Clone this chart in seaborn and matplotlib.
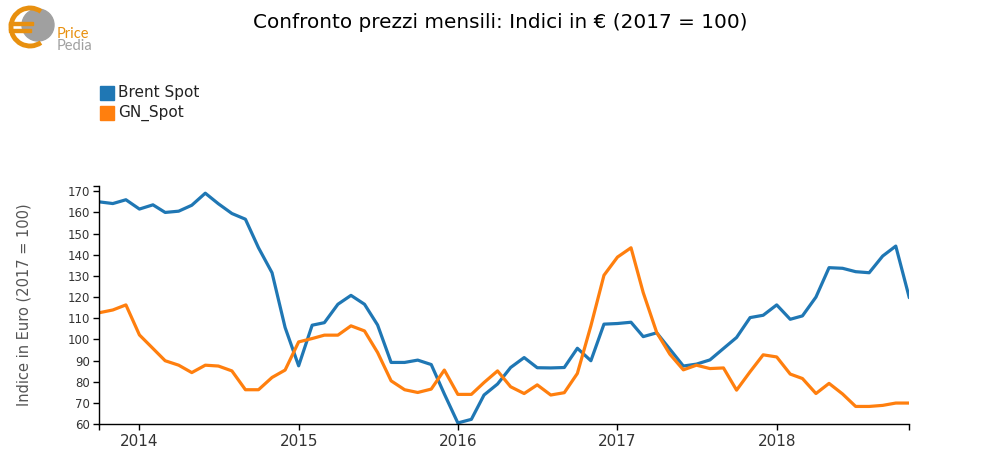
import numpy as np
import pandas as pd
import matplotlib
matplotlib.use("Agg")
import matplotlib.pyplot as plt
from matplotlib.patches import Circle, Arc, Rectangle
import seaborn as sns

# monthly index values, Oct 2013 - Nov 2018 (2017 = 100)
start_month = "2013-10-01"
n_months = 62
series_names = ["Brent Spot", "GN_Spot"]
series_colors = ["#1f77b4", "#ff7f0e"]

brent = [165, 164.2, 166, 161.6, 163.6, 160, 160.6, 163.4, 169.1, 164.1,
         159.5, 156.8, 143.3, 131.5, 105.6, 87.5, 106.7, 107.9, 116.6, 120.8,
         116.6, 106.8, 89.1, 89.1, 90.2, 88.1, 74.2, 60.5, 62.2, 73.7,
         78.9, 86.7, 91.4, 86.6, 86.5, 86.7, 95.8, 89.9, 107.2, 107.5,
         108.1, 101.3, 103.1, 95.4, 87.4, 88.3, 90.3, 95.7, 100.9, 110.3,
         111.4, 116.3, 109.5, 111.1, 120, 133.9, 133.6, 132, 131.5, 139.4,
         144.1, 119.7]
gn = [112.6, 113.9, 116.3, 102.1, 95.7, 89.9, 87.8, 84.3, 87.8, 87.4,
      85.1, 76.2, 76.2, 82, 85.5, 98.8, 100.4, 102, 102, 106.4,
      104, 93.8, 80.4, 76.2, 74.9, 76.5, 85.5, 74, 74, 79.6,
      85.1, 77.6, 74.4, 78.5, 73.7, 74.8, 83.9, 106.4, 130.3, 138.9,
      143.3, 122.1, 103.2, 93, 85.6, 87.8, 86.2, 86.5, 76, 84.7,
      92.7, 91.7, 83.6, 81.5, 74.4, 79.2, 74.2, 68.3, 68.3, 68.8,
      69.9, 69.9]
y_ticks = list(range(60, 171, 10))
year_ticks = ["2014", "2015", "2016", "2017", "2018"]

dates = pd.date_range(start_month, periods=n_months, freq="MS")
df = pd.DataFrame({
    "date": np.concatenate([dates, dates]),
    "value": brent + gn,
    "serie": [series_names[0]] * n_months + [series_names[1]] * n_months,
})

sns.set_style("ticks")
plt.rcParams["font.family"] = ["DejaVu Sans"]

W, H = 1000, 475
fig = plt.figure(figsize=(W / 100, H / 100), dpi=100)
ax = fig.add_axes([99.3 / W, 1 - 424 / H, 810 / W, 238 / H])

sns.lineplot(data=df, x="date", y="value", hue="serie", palette=series_colors,
             linewidth=2.3, ax=ax, legend=False)

ax.set_xlim(dates[0], dates[-1])
ax.set_ylim(60, 172.5)
ax.set_yticks(y_ticks)
ax.set_xticks([pd.Timestamp(y + "-01-01") for y in year_ticks])
ax.set_xticklabels(year_ticks)
# outer ticks at the axis ends, like d3
ax.set_xticks([dates[0], dates[-1]], minor=True)
ax.set_yticks([172.5], minor=True)
ax.tick_params(axis="x", which="both", length=4.5, width=1, color="black",
               labelsize=11, labelcolor="#333333", pad=3)
ax.tick_params(axis="y", which="both", length=4.5, width=1, color="black",
               labelsize=8.5, labelcolor="#333333", pad=2)
for s in ["top", "right"]:
    ax.spines[s].set_visible(False)
for s in ["left", "bottom"]:
    ax.spines[s].set_color("black")
    ax.spines[s].set_linewidth(1)
ax.set_xlabel("")
ax.set_ylabel("Indice in Euro (2017 = 100)", fontsize=10.5, color="#555555")
ax.yaxis.set_label_coords((32 - 99.3) / 810, 0.5)

fig.text(0.5, 1 - 22 / H, "Confronto prezzi mensili: Indici in \u20ac (2017 = 100)",
         ha="center", va="center", fontsize=14.4, color="black")

# legend
for k, (name, col) in enumerate(zip(series_names, series_colors)):
    top = 86 + 20 * k
    fig.patches.append(Rectangle((100 / W, 1 - (top + 14) / H), 14 / W, 14 / H,
                                 transform=fig.transFigure, color=col))
    fig.text(118 / W, 1 - (top + 7) / H, name, ha="left", va="center",
             fontsize=11, color="#222222")

# logo
lax = fig.add_axes([0, 1 - 60 / H, 110 / W, 60 / H])
lax.set_xlim(0, 110)
lax.set_ylim(60, 0)
lax.axis("off")
lax.add_patch(Circle((38, 25), 16, color="#a0a0a0"))
lax.add_patch(Arc((30, 27), 38, 38, theta1=55, theta2=305, color="#e8900f", lw=3.5))
lax.add_patch(Rectangle((9, 22), 24, 3, color="#e8900f"))
lax.add_patch(Rectangle((9, 29), 22, 3, color="#e8900f"))
lax.text(57, 38, "Price", color="#e8900f", fontsize=10.5, va="baseline", family="Lato")
lax.text(57, 50, "Pedia", color="#a0a0a0", fontsize=10.5, va="baseline", family="Lato")

fig.savefig("out.png", dpi=100, facecolor="white")
